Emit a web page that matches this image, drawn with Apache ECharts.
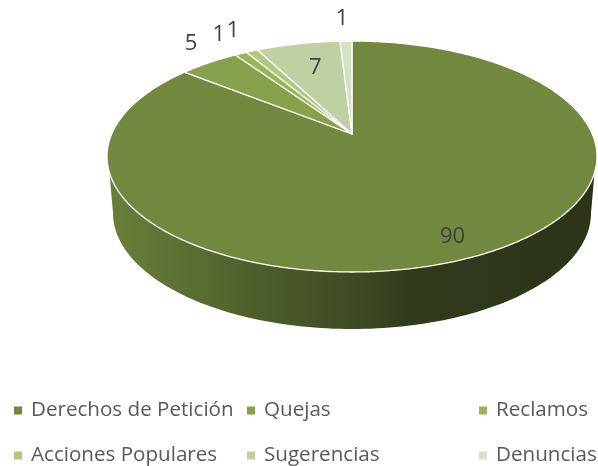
<!DOCTYPE html>
<html>
<head>
<meta charset="utf-8">
<style>html,body{margin:0;padding:0;background:#fff}#c{width:598px;height:466px}</style>
<script src="https://cdn.jsdelivr.net/npm/echarts@6/dist/echarts.min.js"></script>
</head>
<body>
<div id="c"></div>
<script>
const categories = ['Derechos de Petición','Quejas','Reclamos','Acciones Populares','Sugerencias','Denuncias'];
const values = [90,5,1,1,7,1];
const colors = ['#71883e','#86a04c','#98b55a','#aec87c','#bfd0a2','#d5e1c3'];
const labelNudges = [[-26,-19],[-18,-19],[-22,-19],[-19,-20],[17,24],[-4,-22]];
const legendSpots = [[14,400],[247,400],[479,400],[14,445],[247,445],[479,445]];

// perspective projection of the unit disc onto the page
const apexX = 352, apexY = 134, scaleX = 240.3, scaleY = 111.1, persp = 0.1948;
const total = values.reduce((a,b)=>a+b,0);
function project(theta){
  const u = Math.sin(theta), v = Math.cos(theta), w = 1 + persp*v;
  return [apexX + scaleX*u/w, apexY - scaleY*v/w];
}
function sliceAngles(i){
  let before = 0;
  for(let k=0;k<i;k++) before += values[k];
  return [before/total*2*Math.PI, (before+values[i])/total*2*Math.PI];
}
function slicePoints(i){
  const [a,b] = sliceAngles(i);
  const n = Math.max(2,Math.ceil((b-a)/0.01));
  const pts = [[apexX,apexY]];
  for(let s=0;s<=n;s++) pts.push(project(a+(b-a)*s/n));
  return pts;
}
const wallGradient = {type:'linear',x:107,y:0,x2:597,y2:0,global:true,colorStops:[
  {offset:0,color:'#6a7f3a'},{offset:0.2,color:'#586b30'},{offset:0.35,color:'#4a5929'},
  {offset:0.5,color:'#3f4b24'},{offset:0.62,color:'#303a1b'},{offset:1,color:'#2c3418'}]};
function wallPoints(){
  const top = {cy:156.5,rx:245,ry:115.5}, bot = {cy:213,rx:239,ry:116};
  const pts = [];
  const start = Math.asin(16.5/115.5);
  for(let s=0;s<=120;s++){
    const t = start + (Math.PI-2*start)*s/120;
    pts.push([apexX+top.rx*Math.cos(t), top.cy+top.ry*Math.sin(t)]);
  }
  for(let s=0;s<=120;s++){
    const t = Math.PI - Math.PI*s/120;
    pts.push([apexX+bot.rx*Math.cos(t), bot.cy+bot.ry*Math.sin(t)]);
  }
  return pts;
}
const series = [{
  type:'custom', name:'wall', coordinateSystem:'none', silent:true, z:1,
  data:[[1]],
  renderItem(){ return {type:'polygon',shape:{points:wallPoints()},style:{fill:wallGradient}}; }
}].concat(categories.map((name,i)=>({
  type:'custom', name, coordinateSystem:'none', z:2,
  itemStyle:{color:colors[i]},
  data:[[values[i]]],
  renderItem(params,api){
    const [a,b] = sliceAngles(i);
    const rim = project((a+b)/2);
    return {type:'group',children:[
      {type:'polygon',shape:{points:slicePoints(i)},style:{fill:colors[i],stroke:'#fff',lineWidth:1.3,lineJoin:'round'}},
      {type:'text',z2:10,x:rim[0]+labelNudges[i][0],y:rim[1]+labelNudges[i][1],
       style:{text:String(api.value(0)),fill:'#404040',font:'22px "Open Sans"',align:'center',verticalAlign:'middle'}}
    ]};
  }
})));
const legend = categories.map((name,i)=>({
  data:[name], left:legendSpots[i][0], top:legendSpots[i][1], padding:0,
  icon:'rect', itemWidth:8, itemHeight:8, selectedMode:false,
  textStyle:{color:'#595959',fontFamily:'Open Sans',fontSize:20.6,padding:[0,0,0,4]}
}));
const chart = echarts.init(document.getElementById('c'),null,{renderer:'canvas'});
chart.setOption({animation:false,backgroundColor:'#fff',legend,series});
</script>
</body>
</html>
